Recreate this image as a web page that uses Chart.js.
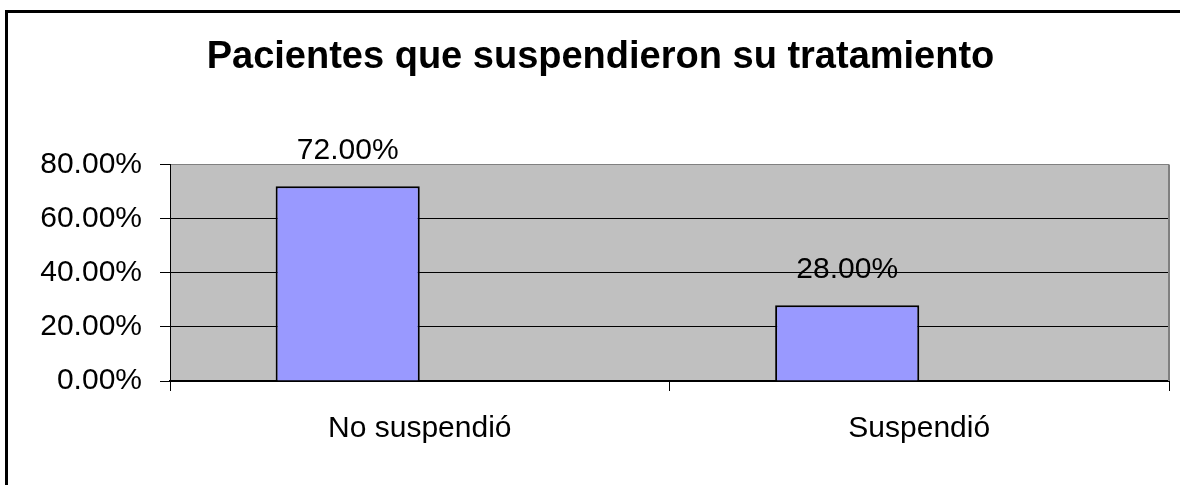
<!DOCTYPE html>
<html>
<head>
<meta charset="utf-8">
<script src="https://cdn.jsdelivr.net/npm/chart.js@4.4.1/dist/chart.umd.min.js"></script>
<style>
    html, body { margin: 0; padding: 0; background: #fff; overflow: hidden; }
    #page { position: absolute; left: 0; top: 0; width: 1180px; height: 485px; overflow: hidden; }
    #frame { position: absolute; left: 5px; top: 10px; width: 1400px; height: 700px; border-left: 3px solid #000; border-top: 3px solid #000; }
    #wrap { position: absolute; left: 0; top: 0; width: 1180px; height: 485px; }
</style>
</head>
<body>
<div id="page">
    <div id="frame"></div>
    <div id="wrap"><canvas id="chart"></canvas></div>
</div>
<script>
const categories = ['No suspendió', 'Suspendió'];
const percentValues = [72, 28];
// second (empty) series, keeps the bars shifted left like the original
const emptySeries = [null, null];
const yMin = 0;
const yMax = 80;
const yStep = 20;

const fontFamily = '"Liberation Sans", Arial, sans-serif';

const plotBackground = {
    id: 'plotBackground',
    beforeDraw(chart) {
        const { ctx, chartArea: a } = chart;
        ctx.save();
        ctx.fillStyle = '#C0C0C0';
        ctx.fillRect(a.left, a.top, a.right - a.left, a.bottom - a.top);
        ctx.restore();
    },
    afterDatasetsDraw(chart) {
        const { ctx, chartArea: a } = chart;
        ctx.save();
        ctx.strokeStyle = '#808080';
        ctx.lineWidth = 2;
        ctx.beginPath();
        ctx.moveTo(a.right, a.top);
        ctx.lineTo(a.right, a.bottom);
        ctx.stroke();
        ctx.restore();
    }
};

const barLabels = {
    id: 'barLabels',
    afterDatasetsDraw(chart) {
        const { ctx } = chart;
        const meta = chart.getDatasetMeta(0);
        ctx.save();
        ctx.font = '30px ' + fontFamily;
        ctx.fillStyle = '#000';
        ctx.textAlign = 'center';
        ctx.textBaseline = 'alphabetic';
        meta.data.forEach((bar, i) => {
            ctx.fillText(percentValues[i].toFixed(2) + '%', bar.x, bar.y - 27);
        });
        ctx.restore();
    }
};

new Chart(document.getElementById('chart'), {
    type: 'bar',
    data: {
        labels: categories,
        datasets: [{
            label: 'Pacientes',
            data: percentValues,
            backgroundColor: '#9999FF',
            borderColor: '#000000',
            borderWidth: 2,
            categoryPercentage: 0.577,
            barPercentage: 1
        }, {
            label: '',
            data: emptySeries,
            backgroundColor: '#9999FF',
            categoryPercentage: 0.577,
            barPercentage: 1
        }]
    },
    options: {
        responsive: true,
        maintainAspectRatio: false,
        animation: false,
        layout: {
            padding: { left: 32, right: 11, top: 0, bottom: 0 }
        },
        plugins: {
            legend: { display: false },
            tooltip: { enabled: false },
            title: {
                display: true,
                text: 'Pacientes que suspendieron su tratamiento',
                color: '#000',
                font: { family: fontFamily, size: 38, weight: 'bold' },
                padding: { top: 35, bottom: 84 }
            }
        },
        scales: {
            y: {
                min: yMin,
                max: yMax,
                ticks: {
                    stepSize: yStep,
                    color: '#000',
                    padding: 18,
                    font: { family: fontFamily, size: 30 },
                    callback: (v) => v.toFixed(2) + '%'
                },
                grid: {
                    color: (c) => c.tick && c.tick.value === yMax ? '#808080' : '#000000',
                    lineWidth: 1,
                    tickLength: 10,
                    tickColor: '#000000'
                },
                border: { color: '#000000', width: 1 },
                afterFit: (scale) => { scale.width = 138; }
            },
            x: {
                ticks: {
                    color: '#000',
                    padding: 20,
                    font: { family: fontFamily, size: 30 }
                },
                grid: {
                    drawOnChartArea: false,
                    tickLength: 10,
                    color: '#000000'
                },
                border: { color: '#000000', width: 2 },
                afterFit: (scale) => { scale.height = 104; }
            }
        }
    },
    plugins: [plotBackground, barLabels]
});
</script>
</body>
</html>
